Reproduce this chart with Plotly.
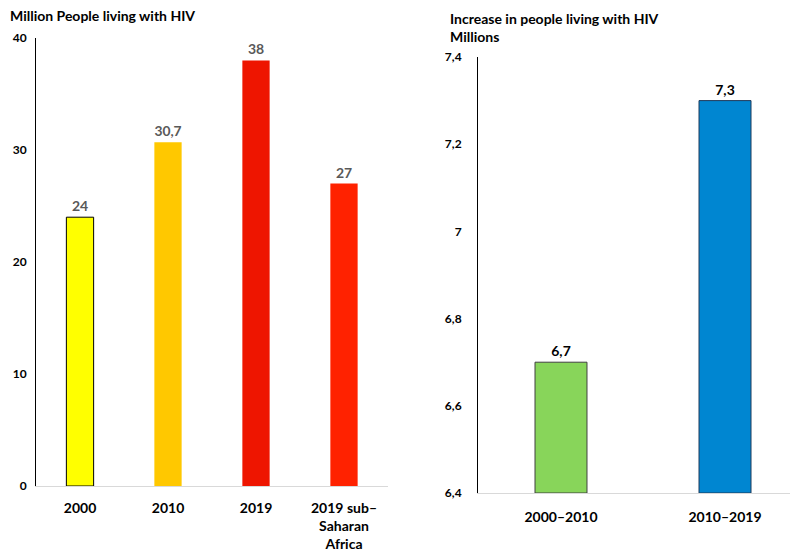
import plotly.graph_objects as go

left_cats = ["2000", "2010", "2019", "2019 sub–<br>Saharan<br>Africa"]
left_vals = [24, 30.7, 38, 27]
left_labels = ["24", "30,7", "38", "27"]
left_colors = ["#FFFF00", "#FFC800", "#EE1500", "#FF2200"]
left_lines = ["#000000", "rgba(0,0,0,0)", "rgba(0,0,0,0)", "rgba(0,0,0,0)"]
left_ticks = [0, 10, 20, 30, 40]

right_cats = ["2000–2010", "2010–2019"]
right_vals = [6.7, 7.3]
right_labels = ["6,7", "7,3"]
right_colors = ["#88D55A", "#0086D1"]
right_lines = ["#404040", "#1F3A5A"]
right_base = 6.4
right_ticks = [6.4, 6.6, 6.8, 7.0, 7.2, 7.4]
right_ticktext = ["6,4", "6,6", "6,8", "7", "7,2", "7,4"]

# The page body has an 8px margin; the figure is sized to fill the rest of the window.
W, H, OFF = 790, 549, 8
def px(x):
    return (x - OFF) / W
def py(y):
    return (557 - y) / H

FONT = "Lato"
fig = go.Figure()
fig.add_trace(go.Bar(
    x=left_cats, y=left_vals, text=left_labels, textposition="outside",
    textfont=dict(family=FONT, size=14, color="#595959", weight="bold"),
    marker=dict(color=left_colors, line=dict(color=left_lines, width=1)),
    width=0.31, xaxis="x", yaxis="y", cliponaxis=False, showlegend=False))
fig.add_trace(go.Bar(
    x=right_cats, y=[v - right_base for v in right_vals], base=right_base,
    text=right_labels, textposition="outside",
    textfont=dict(family=FONT, size=14, color="#000000", weight="bold"),
    marker=dict(color=right_colors, line=dict(color=right_lines, width=1)),
    width=0.317, xaxis="x2", yaxis="y2", cliponaxis=False, showlegend=False))

tickfont = dict(family=FONT, size=12, color="#000000", weight="bold")
xtickfont = dict(family=FONT, size=14, color="#000000", weight="bold")
fig.update_layout(
    width=W, height=H, margin=dict(l=0, r=0, t=0, b=0, autoexpand=False),
    plot_bgcolor="white", paper_bgcolor="white",
    xaxis=dict(domain=[px(36), px(388)], showline=True, linecolor="#D9D9D9", linewidth=1,
               tickfont=xtickfont, showgrid=False, ticks="", anchor="y",
               automargin=False, ticklabelstandoff=9),
    yaxis=dict(domain=[py(486), py(38)], range=[0, 40], tickvals=left_ticks,
               showline=True, linecolor="#000000", linewidth=1, showgrid=False,
               zeroline=False, tickfont=tickfont, ticks="", ticklabelstandoff=6,
               anchor="x", automargin=False),
    xaxis2=dict(domain=[px(478), 1.0], range=[-0.506, 1.445], showline=True,
                linecolor="#D9D9D9", linewidth=1,
                tickfont=xtickfont, showgrid=False, ticks="", anchor="y2",
                automargin=False, ticklabelstandoff=11),
    yaxis2=dict(domain=[py(493), py(57)], range=[6.4, 7.4], tickvals=right_ticks,
                ticktext=right_ticktext, showline=True, linecolor="#000000", linewidth=1,
                showgrid=False, zeroline=False, tickfont=tickfont, ticks="",
                ticklabelstandoff=13, anchor="x2", automargin=False),
    annotations=[
        dict(text="Million People living with HIV", x=px(8), y=py(15), xref="paper",
             yref="paper", showarrow=False,
             font=dict(family=FONT, size=14, color="#000000", weight="bold"),
             xanchor="left", yanchor="middle"),
        dict(text="Increase in people living with HIV<br>Millions", x=px(448), y=1.0,
             xref="paper", yref="paper", showarrow=False, align="left",
             font=dict(family=FONT, size=14, color="#000000", weight="bold"),
             xanchor="left", yanchor="top"),
    ],
)
fig.write_html("out.html")
